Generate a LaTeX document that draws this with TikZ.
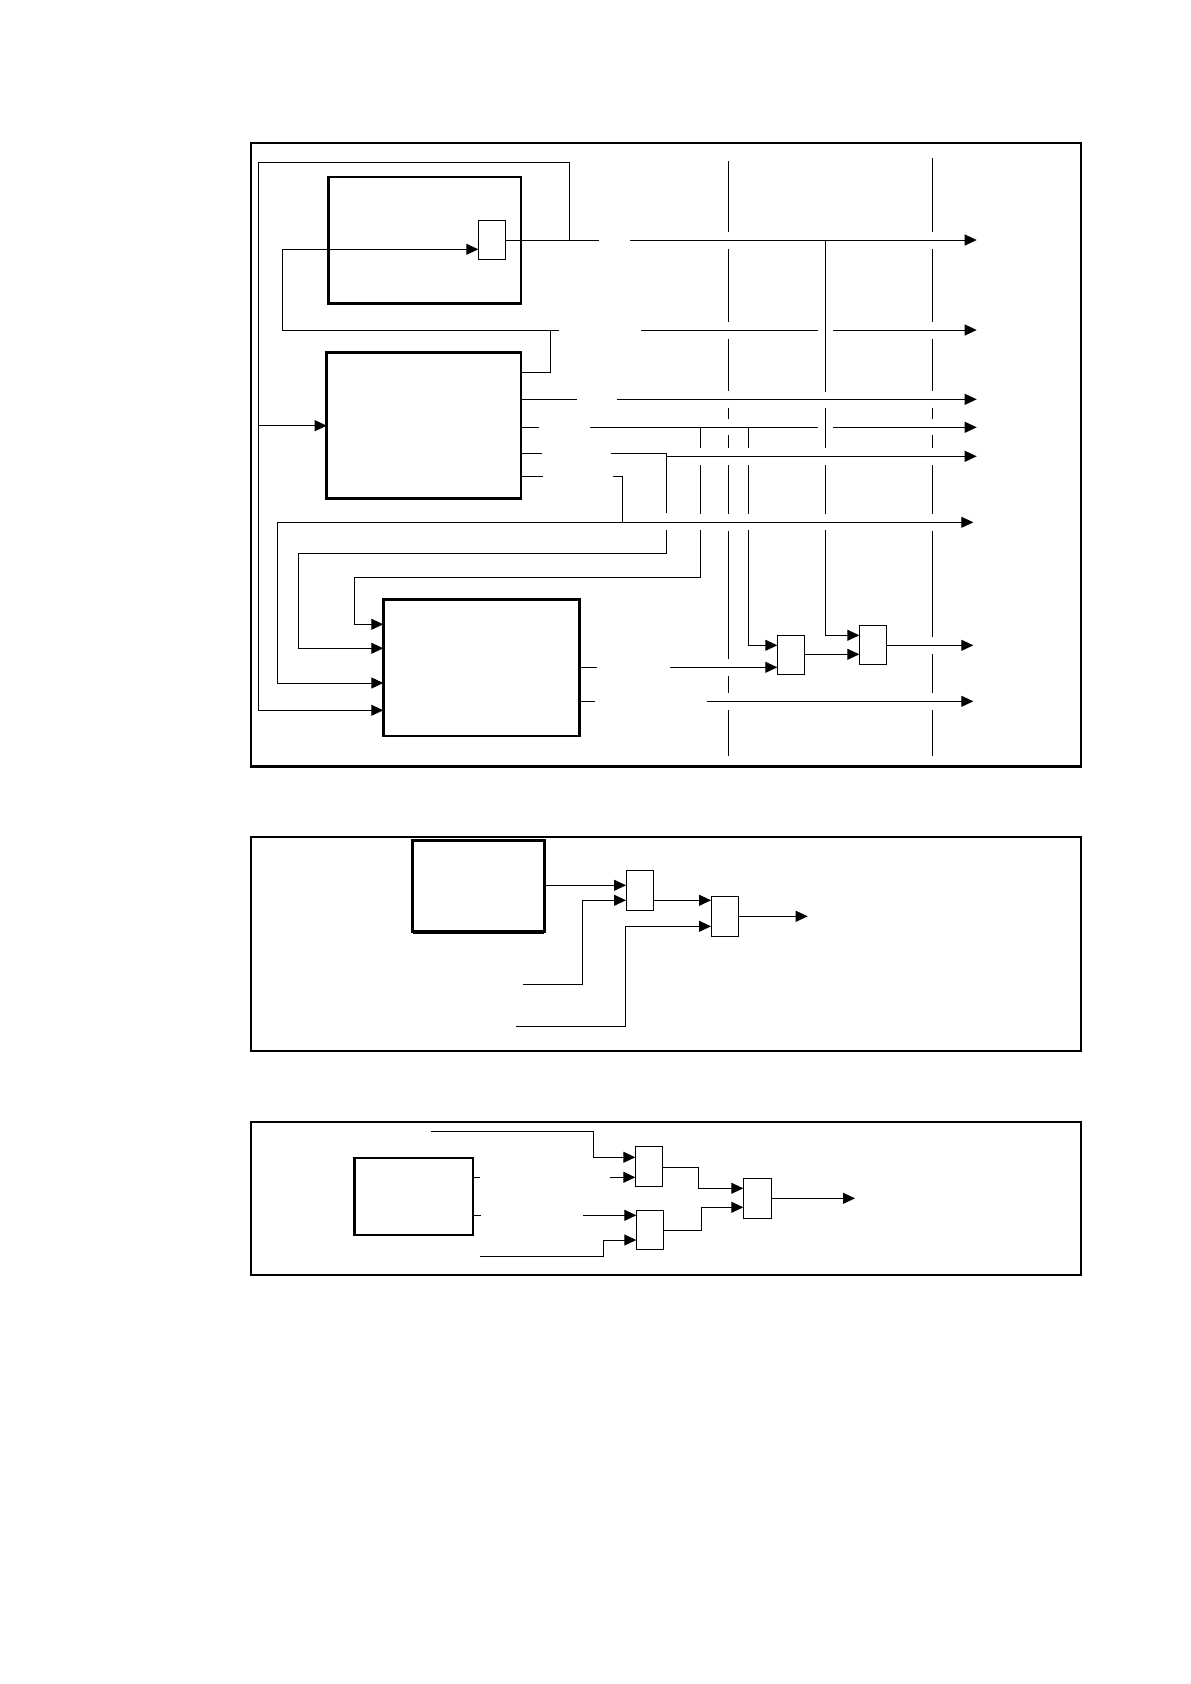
\documentclass[tikz,border=0pt]{standalone}
\usetikzlibrary{arrows.meta}

\begin{document}
\begin{tikzpicture}[x=1pt,y=-1pt,line width=1pt,
    >={Triangle[length=12pt,width=11pt]},
    frame/.style={line width=2.2pt},
    unit/.style={draw,line width=2.6pt,anchor=north west,inner sep=0pt,outer sep=0pt},
    gate/.style={draw,line width=1pt,anchor=north west,inner sep=0pt,outer sep=0pt,
        minimum width=27pt,minimum height=39pt}]
    \useasboundingbox (0,0) rectangle (1191,1684);

    % ---------- upper panel ----------
    \draw[frame] (251,143) rectangle (1081,766.5);
    \node[unit,minimum width=192.3pt,minimum height=126.7pt] (A) at (328.7,177) {};
    \node[gate] (S1) at (478.3,220.5) {};
    \node[unit,minimum width=194.3pt,minimum height=146pt] (B) at (326.7,352.7) {};
    \node[unit,minimum width=196pt,minimum height=136.7pt] (C) at (383.3,599.3) {};
    \node[gate] (S2) at (777.3,635.3) {};
    \node[gate] (S3) at (859.3,625.3) {};
    % outputs on the right
    \foreach \n/\y in {1/240,2/330,3/399.3,4/427.3,5/456.3}
        \coordinate (o\n) at (976.7,\y);
    \foreach \n/\y in {6/522.3,7/645.3,8/701.3}
        \coordinate (o\n) at (973.3,\y);

    % feedback loop
    \draw (S1.east |- 0,240) -- (598.7,240);
    \draw[->] (630,240) -- (o1);
    \draw[->] (569.3,240) |- (258.3,162.3) |- (C.west |- 0,710.3);
    \draw[->] (258.3,425.7) -- (B.west);
    \draw[->] (559.3,330) -- (282.3,330) |- (S1.west |- 0,249.3);
    \draw (B.east |- 0,372.3) -| (550.3,330);
    \draw (641,330) -- (817.7,330);
    \draw[->] (833,330) -- (o2);

    % outputs of B
    \draw (B.east |- 0,399.3) -- (577,399.3);
    \draw[->] (617,399.3) -- (o3);
    \draw (B.east |- 0,427.3) -- (539,427.3);
    \draw (590,427.3) -- (817.7,427.3);
    \draw[->] (833,427.3) -- (o4);
    \draw (B.east |- 0,453.3) -- (542,453.3);
    \draw[->] (611,453.3) -- (666.3,453.3) -- (666.3,456.3) -- (o5);
    \draw (B.east |- 0,476.3) -- (543,476.3);
    \draw (613.3,476.3) -- (622.3,476.3) -- (622.3,522.3);
    \draw[<->] (C.west |- 0,683) -| (277.3,522.3) -- (o6);

    % feeds into C
    \draw (666.3,456.3) -- (666.3,512.7);
    \draw[->] (666.3,530) |- (298.3,553.3) |- (C.west |- 0,648.3);
    \foreach \a/\b in {427.3/448.3,465/514}
        \draw (700.3,\a) -- (700.3,\b);
    \draw[->] (700.3,530) |- (354.3,577.3) |- (C.west |- 0,624.3);

    % gates
    \foreach \a/\b in {427.3/448.3,465/514}
        \draw (748.3,\a) -- (748.3,\b);
    \draw[->] (748.3,530) |- (S2.west |- 0,645.3);
    \foreach \a/\b in {240/391.7,407.7/448.3,465/514}
        \draw (825.3,\a) -- (825.3,\b);
    \draw[->] (825.3,530) |- (S3.west |- 0,635.3);
    \draw (C.east |- 0,667.3) -- (596.7,667.3);
    \draw[->] (670,667.3) -- (S2.west |- 0,667.3);
    \draw[->] (S2.east |- 0,654.3) -- (S3.west |- 0,654.3);
    \draw[->] (S3.east |- 0,645.3) -- (o7);
    \draw (C.east |- 0,701.3) -- (595,701.3);
    \draw[->] (707.3,701.3) -- (o8);

    % vertical bus lines
    \foreach \a/\b in {161/231.5,248.5/321.5,338.5/391,407.5/419,435/448,465/514,531/659,676/693,710/756}
        \draw (728.3,\a) -- (728.3,\b);
    \foreach \a/\b in {158.3/231.5,248.5/321.5,338.5/391,407.5/419,435/448,465/514,531/637,654/693,710/756}
        \draw (932.3,\a) -- (932.3,\b);

    % ---------- middle panel ----------
    \draw[frame] (251,837.3) rectangle (1081,1050.7);
    \node[unit,minimum width=131.6pt,minimum height=91.4pt] (D) at (412.7,840.3) {};
    \draw[line width=4pt] (D.south west) -- (D.south east);
    \node[gate,minimum height=40pt] (S4) at (626,870.3) {};
    \node[gate,minimum height=40pt] (S5) at (711,896.3) {};
    \coordinate (i1) at (523,984.3);
    \coordinate (i2) at (516,1026.3);
    \coordinate (o9) at (807.7,916.3);
    \draw[->] (D.east |- 0,885.3) -- (S4.west |- 0,885.3);
    \draw[->] (i1) -| (582.3,900.3) -- (S4.west |- 0,900.3);
    \draw[->] (S4.east |- 0,900.3) -- (S5.west |- 0,900.3);
    \draw[->] (i2) -| (625.3,926.3) -- (S5.west |- 0,926.3);
    \draw[->] (S5.east |- 0,916.3) -- (o9);

    % ---------- lower panel ----------
    \draw[frame] (251,1121.7) rectangle (1081,1274.7);
    \node[unit,minimum width=118.3pt,minimum height=77pt] (E) at (354.7,1158) {};
    \node[gate,minimum height=40pt] (S6) at (635.3,1146.3) {};
    \node[gate] (S7) at (636.3,1210.3) {};
    \node[gate,minimum width=28pt,minimum height=40pt] (S8) at (743.3,1178.3) {};
    \coordinate (i3) at (431,1131.3);
    \coordinate (i4) at (610,1177.3);
    \coordinate (i5) at (583.3,1215.3);
    \coordinate (i6) at (480,1256);
    \coordinate (o10) at (855,1198.3);
    \draw (E.east |- 0,1177.3) -- (480,1177.3);
    \draw (E.east |- 0,1215.3) -- (481,1215.3);
    \draw[->] (i3) -| (593.3,1157.3) -- (S6.west |- 0,1157.3);
    \draw[->] (i4) -- (S6.west |- i4);
    \draw[->] (i5) -- (S7.west |- i5);
    \draw[->] (i6) -| (603.3,1240) -- (S7.west |- 0,1240);
    \draw[->] (S6.east |- 0,1167.3) -| (698.3,1188.3) -- (S8.west |- 0,1188.3);
    \draw[->] (S7.east |- 0,1230) -| (701.3,1207.3) -- (S8.west |- 0,1207.3);
    \draw[->] (S8.east |- 0,1198.3) -- (o10);
\end{tikzpicture}
\end{document}
